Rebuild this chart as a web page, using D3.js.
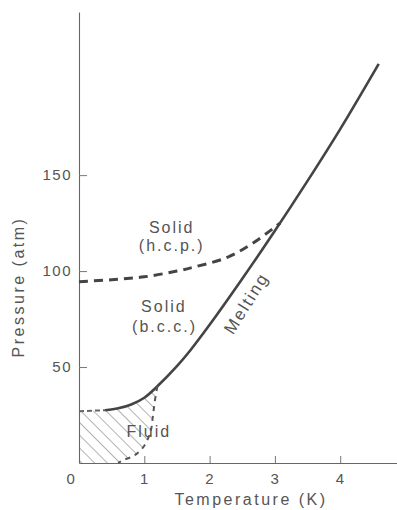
<!DOCTYPE html>
<html>
<head>
<meta charset="utf-8">
<script src="https://cdn.jsdelivr.net/npm/d3@7"></script>
<style>
  body { margin: 0; background: #fff; }
  text { font-family: "Liberation Sans", Arial, sans-serif; fill: #555; }
</style>
</head>
<body>
<div id="chart"></div>
<script>
// melting curve (T in K, P in atm)
const meltT = [0, 0.4, 0.6, 0.8, 1.0, 1.2, 1.5, 1.7, 2.0, 2.5, 3.0, 3.5, 4.0, 4.59];
const meltP = [27, 27.5, 28.5, 30.5, 34, 40, 50.5, 58.5, 72, 96, 121, 147, 174, 208];

// hcp / bcc boundary (dashed)
const hcpT = [0, 0.5, 1.0, 1.5, 1.75, 2.26, 2.66, 3.08];
const hcpP = [94.5, 95.5, 97, 100, 102, 107, 114.5, 125];

// lower edge of the fluid region (dashed)
const fluidT = [1.2, 1.16, 1.13, 1.1, 1.0, 0.85, 0.68, 0.6];
const fluidP = [40, 32, 24, 17, 9, 4, 1.5, 0];

const xTicks = [0, 1, 2, 3, 4];
const yTicks = [50, 100, 150];

const width = 397, height = 510;

const svg = d3.select("#chart").append("svg")
  .attr("width", width)
  .attr("height", height);

const x = d3.scaleLinear().domain([0, 4.9]).range([79, 79 + 4.9 * 65.3]);
const y = d3.scaleLinear().domain([0, 235]).range([463, 12]);

const pts = (ts, ps) => ts.map((t, i) => [t, ps[i]]);
const melt = pts(meltT, meltP);
const hcp = pts(hcpT, hcpP);
const fluidEdge = pts(fluidT, fluidP);

const line = d3.line()
  .x(d => x(d[0]))
  .y(d => y(d[1]))
  .curve(d3.curveCatmullRom.alpha(0.5));

// hatch pattern ("\" direction)
const defs = svg.append("defs");
const pat = defs.append("pattern")
  .attr("id", "hatch")
  .attr("patternUnits", "userSpaceOnUse")
  .attr("width", 9)
  .attr("height", 9)
  .attr("patternTransform", "rotate(-45)");
pat.append("line")
  .attr("x1", 0).attr("y1", 0)
  .attr("x2", 0).attr("y2", 9)
  .attr("stroke", "#666")
  .attr("stroke-width", 1);

// fluid region
const region = [[0, 0]].concat(melt.filter(d => d[0] <= 1.2), fluidEdge.slice(1));
svg.append("path")
  .attr("d", d3.line().x(d => x(d[0])).y(d => y(d[1])).curve(d3.curveLinearClosed)(region))
  .attr("fill", "url(#hatch)");

// axes
const yAxis = svg.append("g")
  .attr("transform", "translate(79,0)")
  .call(d3.axisLeft(y).tickValues(yTicks).tickSizeInner(-8).tickSizeOuter(0).tickPadding(7));

const xAxis = svg.append("g")
  .attr("transform", "translate(0,463)")
  .call(d3.axisBottom(x).tickValues(xTicks).tickFormat(d3.format("d"))
    .tickSizeInner(-7).tickSizeOuter(0).tickPadding(10));

[yAxis, xAxis].forEach(g => {
  g.select(".domain").attr("stroke", "#666").attr("stroke-width", 1.1);
  g.selectAll(".tick line").attr("stroke", "#777");
  g.selectAll(".tick text")
    .style("font-family", "'Liberation Sans', Arial, sans-serif")
    .style("font-size", "15px")
    .style("letter-spacing", "1.5px")
    .attr("fill", "#555");
});
xAxis.selectAll(".tick").filter(d => d === 0).select("text").attr("dx", -8);
xAxis.selectAll(".tick").filter(d => d === 0).select("line").remove();

// melting curve: dashed start, then solid
svg.append("path")
  .attr("d", line(melt.filter(d => d[0] <= 0.4)))
  .attr("fill", "none")
  .attr("stroke", "#666")
  .attr("stroke-width", 2)
  .attr("stroke-dasharray", "5,3");

svg.append("path")
  .attr("d", line(melt.filter(d => d[0] >= 0.4)))
  .attr("fill", "none")
  .attr("stroke", "#444")
  .attr("stroke-width", 2.6);

// hcp/bcc boundary
svg.append("path")
  .attr("d", line(hcp))
  .attr("fill", "none")
  .attr("stroke", "#444")
  .attr("stroke-width", 3)
  .attr("stroke-dasharray", "9,6");

// fluid lower edge
svg.append("path")
  .attr("d", line(fluidEdge))
  .attr("fill", "none")
  .attr("stroke", "#555")
  .attr("stroke-width", 2)
  .attr("stroke-dasharray", "5,5");

// labels
const labels = [
  {t: 1.42, p: 120, s: "Solid"},
  {t: 1.42, p: 110.6, s: "(h.c.p.)"},
  {t: 1.30, p: 78.6, s: "Solid"},
  {t: 1.31, p: 68.2, s: "(b.c.c.)"},
  {t: 1.07, p: 13.5, s: "Fluid"}
];
svg.selectAll("text.lab")
  .data(labels)
  .enter().append("text")
  .attr("class", "lab")
  .attr("x", d => x(d.t))
  .attr("y", d => y(d.p))
  .attr("text-anchor", "middle")
  .style("font-size", "16px")
  .style("letter-spacing", "2px")
  .text(d => d.s);

svg.append("text")
  .attr("transform", "translate(" + x(2.56) + "," + y(83.3) + ") rotate(-58)")
  .attr("text-anchor", "middle")
  .attr("dy", "0.35em")
  .style("font-size", "17px")
  .style("letter-spacing", "2px")
  .text("Melting");

// axis titles
svg.append("text")
  .attr("x", 251)
  .attr("y", 505)
  .attr("text-anchor", "middle")
  .style("font-size", "16px")
  .style("letter-spacing", "2.5px")
  .text("Temperature (K)");

svg.append("text")
  .attr("transform", "translate(18,287) rotate(-90)")
  .attr("text-anchor", "middle")
  .attr("dy", "0.35em")
  .style("font-size", "16px")
  .style("letter-spacing", "2.5px")
  .text("Pressure (atm)");
</script>
</body>
</html>
